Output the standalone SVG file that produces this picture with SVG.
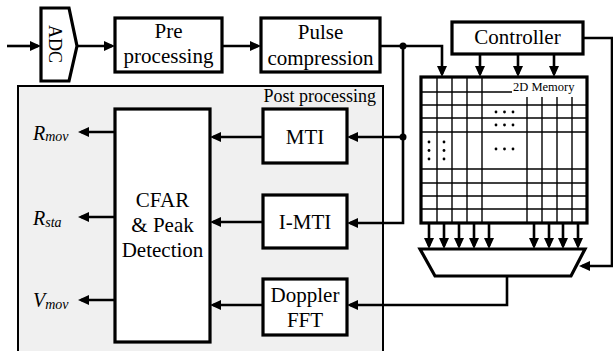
<svg xmlns="http://www.w3.org/2000/svg" width="613" height="351" viewBox="0 0 613 351">
<style>
text{font-family:"Liberation Serif","Times New Roman",serif;fill:#000}
.box{fill:#fff;stroke:#000;stroke-width:3.2}
.lbl{font-family:"Liberation Serif","Times New Roman",serif;font-size:21px;text-anchor:middle}
.c{fill:none;stroke:#000;stroke-width:2.6}
.a{marker-end:url(#ah)}
.g{stroke:#000;stroke-width:1.4}
.it{font-style:italic}
</style>
<defs>
<marker id="ah" markerUnits="userSpaceOnUse" markerWidth="12" markerHeight="11" refX="8" refY="5" orient="auto">
<path d="M0,0 L11,5 L0,10 z" fill="#000"/>
</marker>
</defs>
<g id="post">
<rect x="18" y="86" width="365" height="275" fill="#f0f0f0" stroke="#000" stroke-width="2"/>
<text x="376" y="102" font-size="18" text-anchor="end">Post processing</text>
</g>
<g id="adc">
<polygon class="box" points="41,8 69,8 77,46 69,81 41,81"/>
<text transform="translate(49,44) rotate(90)" font-size="18" text-anchor="middle" fill="#333">ADC</text>
</g>
<g id="pre">
<rect class="box" x="115" y="18" width="107" height="54"/>
<text class="lbl" x="168.5" y="38">Pre</text>
<text class="lbl" x="168.5" y="63">processing</text>
</g>
<g id="pulse">
<rect class="box" x="261" y="18" width="119" height="54"/>
<text class="lbl" x="320.5" y="39">Pulse</text>
<text class="lbl" x="320.5" y="65">compression</text>
</g>
<g id="controller">
<rect class="box" x="452" y="22" width="131" height="32"/>
<text class="lbl" x="517.5" y="44">Controller</text>
</g>
<g id="memory">
<rect x="421" y="77" width="166" height="146" fill="#fff" stroke="#000" stroke-width="3.2"/>
<g class="g">
<line x1="437" y1="78" x2="437" y2="222"/>
<line x1="452" y1="78" x2="452" y2="222"/>
<line x1="467" y1="78" x2="467" y2="222"/>
<line x1="482" y1="78" x2="482" y2="222"/>
<line x1="527" y1="97" x2="527" y2="222"/>
<line x1="542" y1="97" x2="542" y2="222"/>
<line x1="557" y1="97" x2="557" y2="222"/>
<line x1="572" y1="97" x2="572" y2="222"/>
<line x1="422" y1="92" x2="512" y2="92"/>
<line x1="422" y1="105" x2="586" y2="105"/>
<line x1="422" y1="118" x2="586" y2="118"/>
<line x1="422" y1="132" x2="586" y2="132"/>
<line x1="422" y1="169" x2="586" y2="169"/>
<line x1="422" y1="183" x2="586" y2="183"/>
<line x1="422" y1="196" x2="586" y2="196"/>
<line x1="422" y1="209" x2="586" y2="209"/>
</g>
<text x="513" y="91" font-size="12.5">2D Memory</text>
<g fill="#000">
<circle cx="496" cy="112" r="1.4"/><circle cx="504.5" cy="112" r="1.4"/><circle cx="513" cy="112" r="1.4"/>
<circle cx="496" cy="125" r="1.4"/><circle cx="504.5" cy="125" r="1.4"/><circle cx="513" cy="125" r="1.4"/>
<circle cx="496" cy="149" r="1.4"/><circle cx="504.5" cy="149" r="1.4"/><circle cx="513" cy="149" r="1.4"/>
<circle cx="429" cy="142" r="1.4"/><circle cx="429" cy="150.5" r="1.4"/><circle cx="429" cy="159" r="1.4"/>
<circle cx="444" cy="142" r="1.4"/><circle cx="444" cy="150.5" r="1.4"/><circle cx="444" cy="159" r="1.4"/>
</g>
</g>
<g id="mux">
<polygon class="box" points="420,249 585,249 571,276 435,276"/>
</g>
<g id="cfar">
<rect class="box" x="115" y="109" width="95" height="233"/>
<text class="lbl" x="162.5" y="207">CFAR</text>
<text class="lbl" x="162.5" y="232">&amp; Peak</text>
<text class="lbl" x="162.5" y="257">Detection</text>
</g>
<g id="mti">
<rect class="box" x="263" y="109" width="84" height="54"/>
<text class="lbl" x="305" y="144">MTI</text>
</g>
<g id="imti">
<rect class="box" x="263" y="195" width="84" height="53"/>
<text class="lbl" x="305" y="229">I-MTI</text>
</g>
<g id="doppler">
<rect class="box" x="263" y="279" width="84" height="56"/>
<text class="lbl" x="305" y="302">Doppler</text>
<text class="lbl" x="305" y="327">FFT</text>
</g>
<g id="outputs">
<text x="33" y="140" class="it" font-size="20">R<tspan font-size="14" dy="1">mov</tspan></text>
<text x="33" y="225" class="it" font-size="20">R<tspan font-size="14" dy="2">sta</tspan></text>
<text x="33" y="307" class="it" font-size="20">V<tspan font-size="14" dy="2">mov</tspan></text>
</g>
<g id="connectors">
<path class="c a" d="M7,46 H38"/>
<path class="c a" d="M77,46 H112"/>
<path class="c a" d="M222,46 H258"/>
<path class="c a" d="M380,46 H442 V74"/>
<path class="c a" d="M403,46 V223 H350"/>
<path class="c a" d="M403,137 H350"/>
<circle cx="403" cy="46" r="3.5" fill="#000"/>
<circle cx="403" cy="137" r="3.5" fill="#000"/>
<path class="c a" d="M480,54 V74"/>
<path class="c a" d="M518,54 V74"/>
<path class="c a" d="M554,54 V74"/>
<path class="c a" d="M583,38 H612 V266 H582"/>
<path class="c a" d="M429,223 V246"/>
<path class="c a" d="M444,223 V246"/>
<path class="c a" d="M459,223 V246"/>
<path class="c a" d="M474,223 V246"/>
<path class="c a" d="M489,223 V246"/>
<path class="c a" d="M534,223 V246"/>
<path class="c a" d="M549,223 V246"/>
<path class="c a" d="M563,223 V246"/>
<path class="c a" d="M578,223 V246"/>
<path class="c a" d="M507,276 V305 H350"/>
<path class="c a" d="M263,137 H213"/>
<path class="c a" d="M263,222 H213"/>
<path class="c a" d="M263,305 H213"/>
<path class="c a" d="M115,132 H81"/>
<path class="c a" d="M115,217 H81"/>
<path class="c a" d="M115,300 H81"/>
</g>
</svg>
